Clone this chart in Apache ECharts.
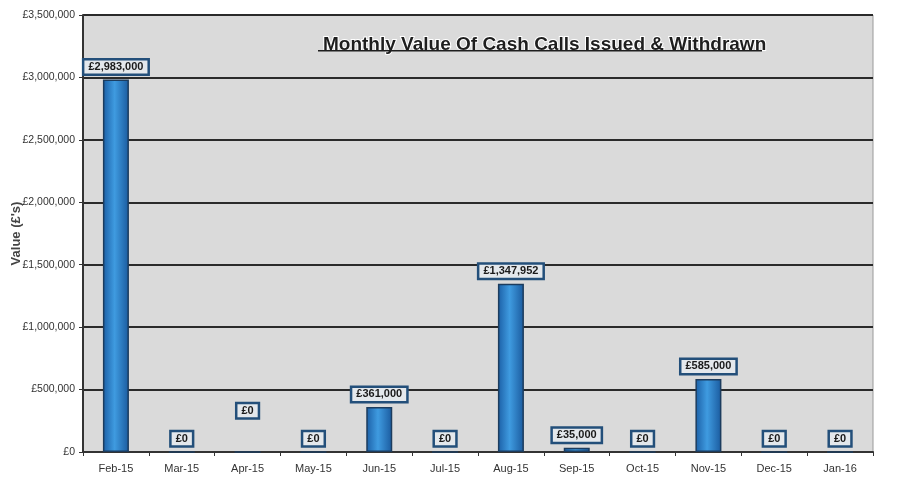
<!DOCTYPE html>
<html>
<head>
<meta charset="utf-8">
<script src="https://cdn.jsdelivr.net/npm/echarts@6/dist/echarts.min.js"></script>
<style>
    html, body { margin: 0; padding: 0; background: #fff; }
    #chart { width: 899px; height: 492px; }
</style>
</head>
<body>
<div id="chart"></div>
<script>
// 月份
var months = ['Feb-15', 'Mar-15', 'Apr-15', 'May-15', 'Jun-15', 'Jul-15',
              'Aug-15', 'Sep-15', 'Oct-15', 'Nov-15', 'Dec-15', 'Jan-16'];
// 金额
var values = [2983000, 0, 0, 0, 361000, 0, 1347952, 35000, 0, 585000, 0, 0];
// y 轴刻度
var yTicks = [0, 500000, 1000000, 1500000, 2000000, 2500000, 3000000, 3500000];

var font = "'Liberation Sans', Arial, sans-serif";

function money(v) {
    return '£' + Math.round(v).toString().replace(/\B(?=(\d{3})+(?!\d))/g, ',');
}

var myChart = echarts.init(document.getElementById('chart'));

myChart.setOption({
    backgroundColor: '#fff',
    animation: false,
    title: {
        text: 'Monthly Value Of Cash Calls Issued & Withdrawn',
        left: 318,
        top: 30,
        textStyle: {
            fontFamily: font,
            fontSize: 19,
            fontWeight: 'bold',
            color: '#1e1e1e',
            textBorderColor: '#fff',
            textBorderWidth: 2
        }
    },
    // 标题下划线
    graphic: [{
        type: 'rect',
        shape: { x: 318, y: 50, width: 444, height: 1.5 },
        style: { fill: '#1e1e1e' },
        z: 100
    }],
    grid: {
        left: 83,
        right: 26,
        top: 15,
        bottom: 40,
        outerBoundsMode: 'none',
        show: true,
        backgroundColor: '#dadada',
        borderColor: '#9a9a9a',
        borderWidth: 1
    },
    xAxis: {
        type: 'category',
        data: months,
        axisLine: { lineStyle: { color: '#333', width: 2 } },
        axisTick: { show: true, lineStyle: { color: '#333' }, length: 4 },
        axisLabel: {
            fontFamily: font,
            fontSize: 11,
            color: '#333',
            margin: 11
        }
    },
    yAxis: {
        type: 'value',
        min: yTicks[0],
        max: yTicks[yTicks.length - 1],
        interval: yTicks[1] - yTicks[0],
        name: "Value (£'s)",
        nameLocation: 'middle',
        nameGap: 60,
        nameMoveOverlap: false,
        nameTextStyle: {
            fontFamily: font,
            fontSize: 13,
            fontWeight: 'bold',
            color: '#444'
        },
        axisLine: { show: true, lineStyle: { color: '#333', width: 2 } },
        axisTick: { show: true, lineStyle: { color: '#333' }, length: 4 },
        axisLabel: {
            fontFamily: font,
            fontSize: 10.5,
            color: '#333',
            margin: 8,
            formatter: function (v) { return money(v); }
        },
        splitLine: { lineStyle: { color: '#2a2a2a', width: 2 } }
    },
    series: [{
        type: 'bar',
        barWidth: 26,
        data: values.map(function (v, i) {
            var item = { value: v };
            // Apr-15 的标签在图中位置偏高
            if (months[i] === 'Apr-15') {
                item.label = { offset: [0, -28] };
            }
            return item;
        }),
        itemStyle: {
            color: {
                type: 'linear', x: 0, y: 0, x2: 1, y2: 0,
                colorStops: [
                    { offset: 0, color: '#1b5fa6' },
                    { offset: 0.45, color: '#3f9be0' },
                    { offset: 1, color: '#1a5a9e' }
                ]
            },
            borderColor: '#1c3c5e',
            borderWidth: 1.5
        },
        label: {
            show: true,
            position: 'top',
            distance: 6,
            formatter: function (p) { return money(p.value); },
            fontFamily: font,
            fontSize: 11,
            fontWeight: 'bold',
            color: '#1a1a1a',
            backgroundColor: '#e4e8ec',
            borderColor: '#234f7a',
            borderWidth: 2.5,
            padding: [1, 4]
        }
    }]
});
</script>
</body>
</html>
